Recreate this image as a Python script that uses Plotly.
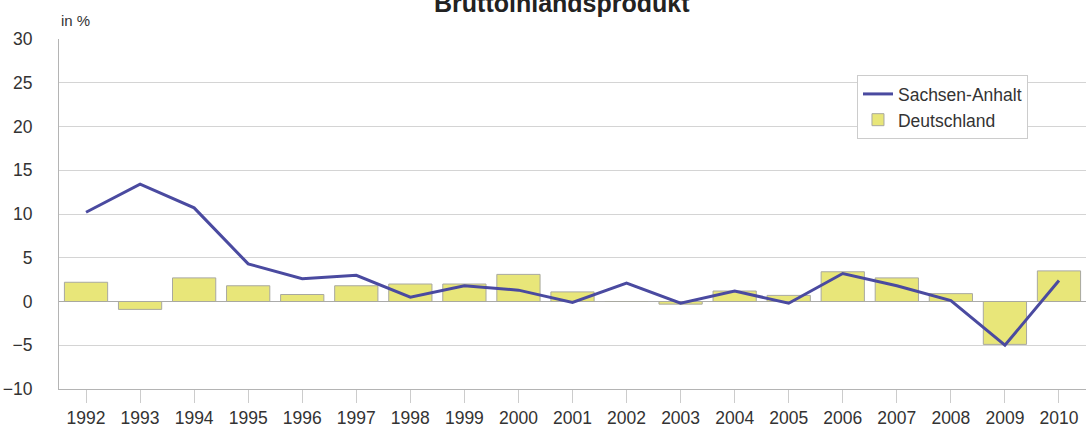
import plotly.graph_objects as go


GRID = "#d4d4d4"
AXIS = "#b4b4b4"
TEXT = "#333333"
LINE_BLUE = "#4a4aa0"
BAR_YELLOW = "#e8e679"

years = [str(y) for y in range(1992, 2011)]

sachsen_anhalt = [10.2, 13.4, 10.7, 4.3, 2.6, 3.0, 0.5, 1.8, 1.3, -0.1,
                  2.1, -0.2, 1.2, -0.2, 3.2, 1.8, 0.1, -5.0, 2.4]

deutschland = [2.2, -0.9, 2.7, 1.8, 0.8, 1.8, 2.0, 2.0, 3.1, 1.1,
               0.0, -0.3, 1.2, 0.7, 3.4, 2.7, 0.9, -4.9, 3.5]

y_ticks = [30, 25, 20, 15, 10, 5, 0, -5, -10]


fig = go.Figure()

fig.add_trace(
    go.Bar(
        x=years,
        y=deutschland,
        name="Deutschland",
        width=0.8,
        marker=dict(
            color=BAR_YELLOW,
            line=dict(color="#a8a8a0", width=1),
        ),
    )
)

fig.add_trace(
    go.Scatter(
        x=years,
        y=sachsen_anhalt,
        name="Sachsen-Anhalt",
        mode="lines",
        line=dict(color=LINE_BLUE, width=3),
    )
)

fig.update_layout(
    width=1086,
    height=434,
    paper_bgcolor="white",
    plot_bgcolor="white",
    font=dict(family="Liberation Sans, Arial", color=TEXT, size=17),
    margin=dict(l=59, r=0, t=39, b=45),
    showlegend=True,
    legend=dict(
        x=0.777,
        y=0.897,
        xanchor="left",
        yanchor="top",
        bgcolor="white",
        bordercolor="#cccccc",
        borderwidth=1,
        font=dict(size=17.5, color=TEXT),
        traceorder="reversed",
        itemwidth=30,
        tracegroupgap=2,
    ),
    annotations=[
        # title, cut off at the top edge as in the source picture
        dict(
            text="<b>Bruttoinlandsprodukt</b>",
            x=(562 - 59) / 1027,
            xref="paper",
            y=1.103,
            yref="paper",
            xanchor="center",
            yanchor="middle",
            showarrow=False,
            font=dict(size=25, color="#222222"),
        ),
        dict(
            text="in %",
            x=0,
            xref="paper",
            y=1.054,
            yref="paper",
            xanchor="left",
            yanchor="middle",
            showarrow=False,
            font=dict(size=15, color=TEXT),
        ),
    ],
)

fig.update_xaxes(
    type="category",
    range=[-0.5, 18.5],
    showgrid=False,
    showline=True,
    linecolor=AXIS,
    linewidth=1,
    ticks="outside",
    ticklen=13,
    tickcolor="#cccccc",
    tickfont=dict(size=17.5, color=TEXT),
)

fig.update_yaxes(
    range=[-10, 30],
    tickvals=y_ticks,
    showgrid=True,
    gridcolor=GRID,
    gridwidth=1,
    zeroline=True,
    zerolinecolor="#aaaaaa",
    zerolinewidth=1,
    showline=True,
    linecolor=AXIS,
    ticks="",
    ticklabelstandoff=22,
    tickfont=dict(size=17.5, color=TEXT),
)

fig.write_html(
    "out.html",
    config={"displayModeBar": False},
    post_script="document.body.style.margin='0';",
)
